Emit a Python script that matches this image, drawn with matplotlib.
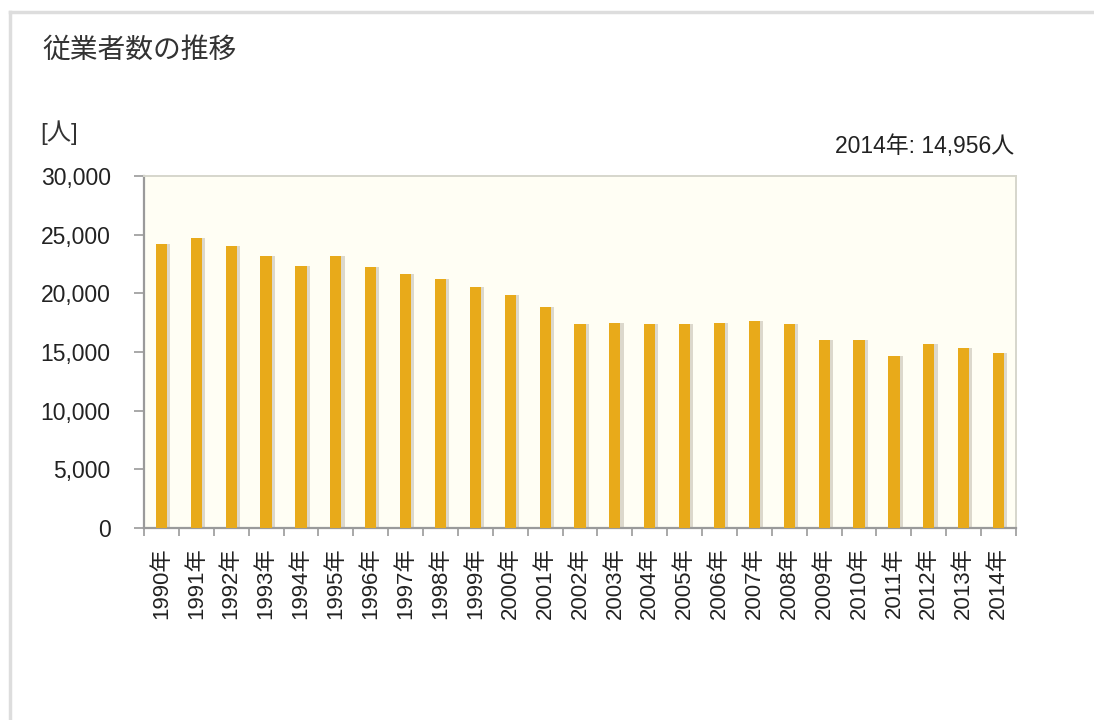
import matplotlib
matplotlib.use("Agg")
import matplotlib.pyplot as plt
from matplotlib.lines import Line2D
import numpy as np

years = [str(y) for y in range(1990, 2015)]
labels = [y + "年" for y in years]
values = [24180, 24690, 24030, 23210, 22330, 23180, 22220, 21650, 21220, 20540,
          19860, 18860, 17360, 17500, 17360, 17360, 17500, 17670, 17360, 15990,
          15990, 14660, 15680, 15310, 14956]
yticks = [0, 5000, 10000, 15000, 20000, 25000, 30000]

plt.rcParams['font.family'] = ['Liberation Sans', 'Noto Sans CJK JP', 'DejaVu Sans']

fig = plt.figure(figsize=(10.94, 7.2), dpi=100)
fig.patch.set_facecolor('white')

# outer frame
fig.add_artist(Line2D([10/1094, 10/1094], [0, 1 - 12/720], transform=fig.transFigure,
                      color='#dddddd', lw=2.5))
fig.add_artist(Line2D([10/1094, 1], [1 - 12/720, 1 - 12/720], transform=fig.transFigure,
                      color='#dddddd', lw=2.5))

ax = fig.add_axes([144/1094, 1 - 528/720, 872/1094, 352/720])
ax.set_facecolor('#fffef4')

x = np.arange(len(values))
ax.bar(x + 0.09, values, width=0.32, color='#dcd8cc', zorder=2)
ax.bar(x, values, width=0.32, color='#e8aa1a', zorder=3)

ax.set_xlim(-0.5, len(values) - 0.5)
ax.set_ylim(0, 30000)
ax.set_yticks(yticks)
ax.set_yticklabels([f"{v:,}" for v in yticks], fontsize=16.5, color='#222222')
ax.set_xticks(x)
ax.set_xticklabels(labels, rotation=90, fontsize=16, color='#222222')
ax.set_xticks(np.arange(-0.5, len(values)), minor=True)
ax.tick_params(axis='x', which='major', length=0, pad=14)
ax.tick_params(axis='x', which='minor', length=6, color='#999999', width=1.2)
ax.tick_params(axis='y', which='major', length=7, color='#999999', width=1.2, pad=17)

for s in ['left', 'bottom']:
    ax.spines[s].set_color('#9a9a9a')
    ax.spines[s].set_linewidth(1.6)
for s in ['top', 'right']:
    ax.spines[s].set_color('#d6d6cc')
    ax.spines[s].set_linewidth(1.4)

fig.text(42/1094, 1 - 51/720, "従業者数の推移", fontsize=20, color='#333333',
         va='center', ha='left')
fig.text(40/1094, 1 - 133/720, "[人]", fontsize=17.5, color='#333333',
         va='center', ha='left')
fig.text(1014/1094, 1 - 146/720, "2014年: 14,956人", fontsize=16.5, color='#222222',
         va='center', ha='right')

fig.savefig("out.png", dpi=100)
